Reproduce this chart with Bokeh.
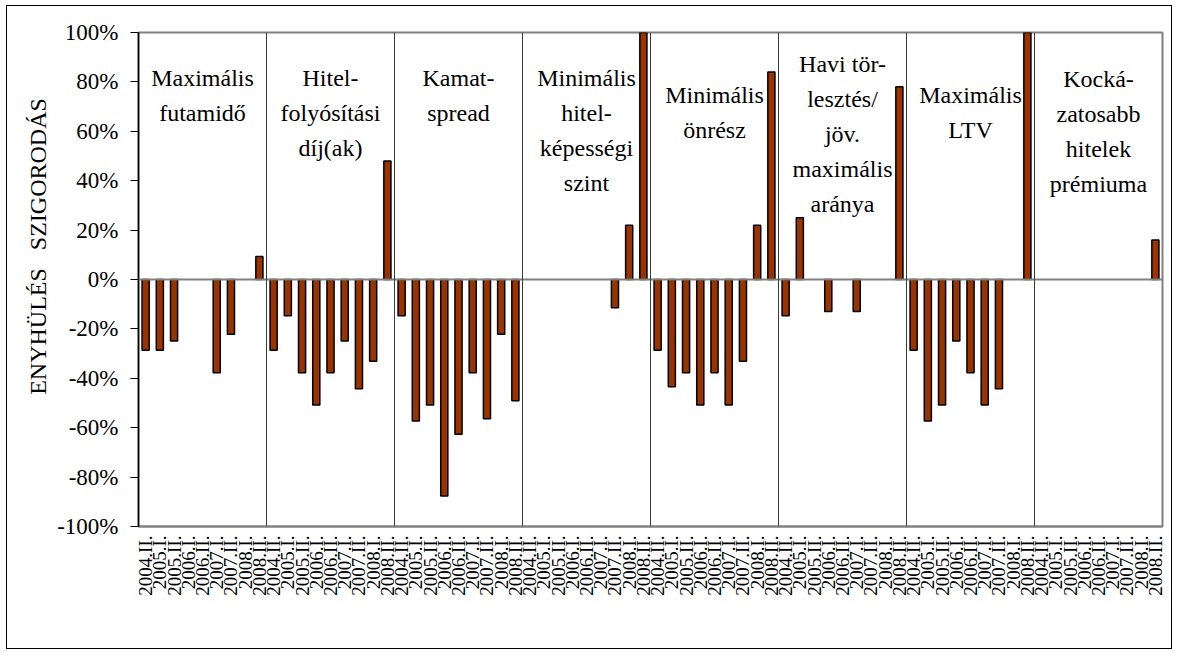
import math
from bokeh.plotting import figure
from bokeh.models import ColumnDataSource, FixedTicker, Span, Range1d
from bokeh.core.properties import value
from bokeh.embed import file_html
from bokeh.resources import INLINE

# ---------------- data ----------------
groups = [
    "Maximális\nfutamidő",
    "Hitel-\nfolyósítási\ndíj(ak)",
    "Kamat-\nspread",
    "Minimális\nhitel-\nképességi\nszint",
    "Minimális\nönrész",
    "Havi tör-\nlesztés/\njöv.\nmaximális\naránya",
    "Maximális\nLTV",
    "Kocká-\nzatosabb\nhitelek\nprémiuma",
]
periods = ["2004.II.", "2005.I.", "2005.II.", "2006.I.", "2006.II.",
           "2007.I.", "2007.II.", "2008.I.", "2008.II."]
N = None
v_futamido = [-28.6, -28.6, -24.9, N, N, -37.8, -22.2, N, 9.3]
v_dij = [-28.6, -14.7, -37.8, -50.8, -37.8, -24.9, -44.2, -33.1, 48.0]
v_spread = [-14.7, -57.3, -50.8, -87.7, -62.7, -37.8, -56.4, -22.2, -49.1]
v_hitelkepesseg = [N, N, N, N, N, N, -11.4, 22.0, 100.0]
v_onresz = [-28.6, -43.4, -37.8, -50.8, -37.8, -50.8, -33.1, 22.0, 84.0]
v_torlesztes = [-14.7, 25.0, N, -13.0, N, -13.0, N, N, 78.0]
v_ltv = [-28.6, -57.3, -50.8, -24.9, -37.8, -50.8, -44.2, N, 100.0]
v_premium = [N, N, N, N, N, N, N, N, 16.0]
series = [v_futamido, v_dij, v_spread, v_hitelkepesseg,
          v_onresz, v_torlesztes, v_ltv, v_premium]
y_ticks = [-100, -80, -60, -40, -20, 0, 20, 40, 60, 80, 100]
y_axis_words = ["ENYHÜLÉS", "SZIGORODÁS"]

# ---------------- build ----------------
n_per = len(periods)
n_tot = n_per * len(groups)

xs, tops = [], []
for gi, vals in enumerate(series):
    for pi_, v in enumerate(vals):
        if v is not None:
            xs.append(gi * n_per + pi_)
            tops.append(v)
src = ColumnDataSource(dict(x=xs, top=tops))

SERIF = "Times New Roman"

# canvas placed at (7,6) inside a 1px border at x=6..1173, y=5..650
OX, OY = 7, 6
W, H = 1166, 644
F_L, F_R, F_T, F_B = 138, 1162, 32, 526   # frame in page pixels

p = figure(width=W, height=H, output_backend="svg", toolbar_location=None,
           x_range=Range1d(-0.5, n_tot - 0.5), y_range=Range1d(-100, 100),
           min_border_left=F_L - OX, min_border_right=OX + W - F_R,
           min_border_top=F_T - OY, min_border_bottom=OY + H - F_B)
p.margin = (OY - 1, 0, 0, OX - 1)
p.styles = {"border": "1px solid black"}
p.xgrid.visible = False
p.ygrid.visible = False
p.outline_line_color = "#808080"
p.outline_line_width = 2
p.background_fill_color = "white"
p.border_fill_color = "white"

p.vbar(x="x", top="top", bottom=0, width=0.5, source=src,
       fill_color="#993300", line_color="black", line_width=1.5)

p.add_layout(Span(location=0, dimension="width", line_color="#808080", line_width=2))
for k in range(1, len(groups)):
    p.add_layout(Span(location=k * n_per - 0.5, dimension="height",
                      line_color="#3a3a3a", line_width=1))

# group titles
t_x, t_y, t_txt = [], [], []
first_px = [77, 77, 77, 77, 94, 63, 94, 78]
for gi, g in enumerate(groups):
    for li, line in enumerate(g.split("\n")):
        px = first_px[gi] + li * 35
        t_x.append(gi * n_per + (n_per - 1) / 2)
        t_y.append((279 - px) / 2.47)
        t_txt.append(line)
p.text(x=t_x, y=t_y, text=t_txt, text_align="center", text_baseline="alphabetic",
       text_font=value(SERIF), text_font_size="24px", text_color="black")

# axes
p.yaxis.ticker = FixedTicker(ticks=y_ticks)
p.yaxis.major_label_overrides = {t: f"{t}%" for t in y_ticks}
p.yaxis.major_label_text_font = SERIF
p.yaxis.major_label_text_font_size = "23px"
p.yaxis.major_label_text_color = "black"
p.yaxis.major_tick_out = 8
p.yaxis.major_tick_in = 0
p.yaxis.minor_tick_line_color = None
p.yaxis.major_label_standoff = 12
p.yaxis.axis_line_color = "black"
p.yaxis.axis_line_width = 1.5
p.yaxis.major_tick_line_color = "black"
p.yaxis.axis_label = "\u00a0" * 11 + ("\u00a0" * 3).join(y_axis_words)
p.yaxis.axis_label_text_font = SERIF
p.yaxis.axis_label_text_font_style = "normal"
p.yaxis.axis_label_text_font_size = "24px"
p.yaxis.axis_label_text_color = "black"
p.yaxis.axis_label_standoff = 3

p.xaxis.ticker = FixedTicker(ticks=list(range(n_tot)))
p.xaxis.major_label_overrides = {i: periods[i % n_per] for i in range(n_tot)}
p.xaxis.major_label_orientation = math.pi / 2
p.xaxis.major_label_text_font = SERIF
p.xaxis.major_label_text_font_size = "19px"
p.xaxis.major_label_text_color = "black"
p.xaxis.major_tick_line_color = None
p.xaxis.minor_tick_line_color = None
p.xaxis.axis_line_color = "#808080"
p.xaxis.axis_line_width = 2
p.xaxis.major_label_standoff = 3

open("out.html", "w").write(file_html(p, INLINE))
